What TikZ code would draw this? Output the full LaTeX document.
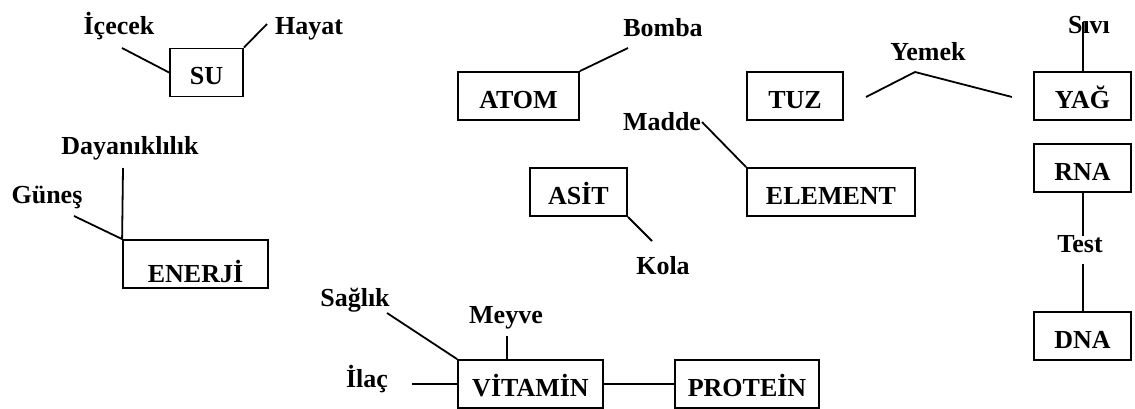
\documentclass[tikz,border=0pt]{standalone}
\usepackage{fontspec}
\setmainfont{Liberation Serif}
\begin{document}
\begin{tikzpicture}[x=0.5pt,y=-0.5pt,
  every node/.style={font=\fontsize{13}{15}\selectfont\bfseries},
  box/.style={draw,line width=0.9pt,inner sep=0pt,minimum height=24pt,text height=12.1pt,text depth=0pt},
  lab/.style={inner sep=0pt,anchor=base},
  conn/.style={line width=0.9pt}]
\useasboundingbox (0,0) rectangle (1135,408);
% boxes
\node[box,minimum width=36.5pt] (su) at (206.5,72.5) {SU};
\node[box,minimum width=72.5pt,text height=18.6pt] (enerji) at (195.5,264) {ENERJİ};
\node[box,minimum width=60.5pt] (atom) at (518.5,96) {ATOM};
\node[box,minimum width=48.5pt] (asit) at (578.5,192) {ASİT};
\node[box,minimum width=48pt] (tuz) at (795,96) {TUZ};
\node[box,minimum width=84pt] (element) at (831,192) {ELEMENT};
\node[box,minimum width=48.5pt] (yag) at (1082.5,96) {YAĞ};
\node[box,minimum width=48.5pt] (rna) at (1082.5,168) {RNA};
\node[box,minimum width=48.5pt] (dna) at (1082.5,336) {DNA};
\node[box,minimum width=72.5pt] (vitamin) at (530.5,384) {VİTAMİN};
\node[box,minimum width=72pt] (protein) at (747,384) {PROTEİN};
% labels
\node[lab] (icecek) at (119,34) {İçecek};
\node[lab] (hayat) at (309,34) {Hayat};
\node[lab] (dayan) at (130,154) {Dayanıklılık};
\node[lab] (gunes) at (47,203) {Güneş};
\node[lab] (bomba) at (663,36) {Bomba};
\node[lab] (madde) at (662,130) {Madde};
\node[lab] (kola) at (663,274) {Kola};
\node[lab] (yemek) at (928,60) {Yemek};
\node[lab] (sivi) at (1089,33) {Sıvı};
\node[lab] (test) at (1080,252) {Test};
\node[lab] (saglik) at (355,306) {Sağlık};
\node[lab] (meyve) at (506,323) {Meyve};
\node[lab] (ilac) at (367,387) {İlaç};
% free ends
\coordinate (cIcecek) at (122,48);
\coordinate (cHayat) at (267,24);
\coordinate (cDayan) at (123,168);
\coordinate (cGunes) at (74,216);
\coordinate (cBomba) at (628,48);
\coordinate (cMadde) at (702,122);
\coordinate (cKola) at (652,241);
\coordinate (cYemL) at (866,97);
\coordinate (cYemM) at (915,72);
\coordinate (cYemR) at (1012,97);
\coordinate (cSivi) at (1083,22);
\coordinate (cTestA) at (1083,236);
\coordinate (cTestB) at (1083,264);
\coordinate (cSaglik) at (387,313);
\coordinate (cMeyve) at (507,336);
\coordinate (cIlac) at (412,384);
% connectors
\draw[conn] (cIcecek) -- (su.west);
\draw[conn] (su.north east) -- (cHayat);
\draw[conn] (cDayan) -- (enerji.north west);
\draw[conn] (cGunes) -- (enerji.north west);
\draw[conn] (atom.north east) -- (cBomba);
\draw[conn] (cMadde) -- (element.north west);
\draw[conn] (asit.south east) -- (cKola);
\draw[conn] (cYemL) -- (cYemM) -- (cYemR);
\draw[conn] (yag.north -| cSivi) -- (cSivi);
\draw[conn] (rna.south -| cTestA) -- (cTestA);
\draw[conn] (cTestB) -- (dna.north -| cTestB);
\draw[conn] (cSaglik) -- (vitamin.north west);
\draw[conn] (cMeyve) -- (vitamin.north -| cMeyve);
\draw[conn] (cIlac) -- (vitamin.west);
\draw[conn] (vitamin.east) -- (protein.west);
\end{tikzpicture}
\end{document}
